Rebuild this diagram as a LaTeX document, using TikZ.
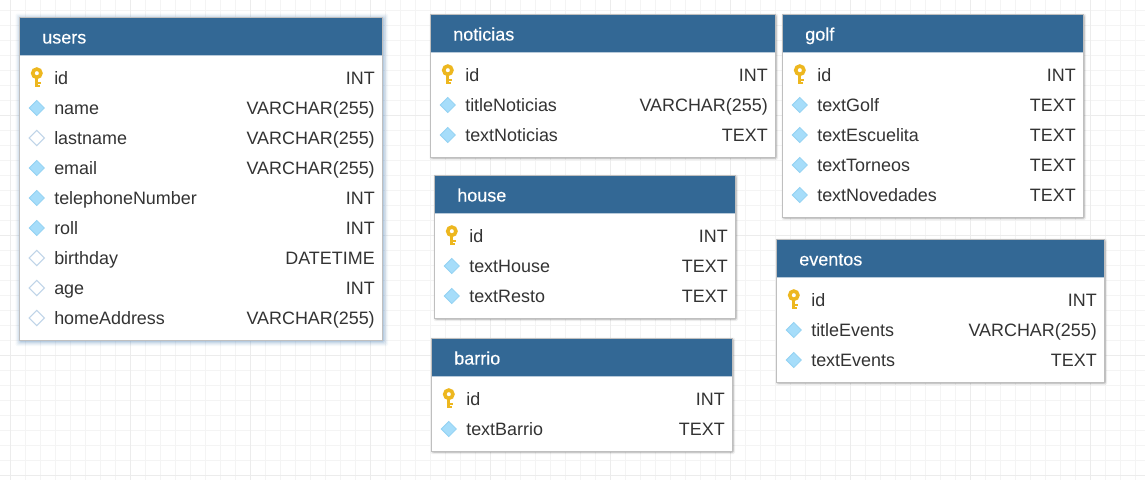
\documentclass[tikz,border=0pt]{standalone}
\usepackage{fontspec}
\setmainfont{Liberation Sans}
\newfontface\titleface{Liberation Sans}[FakeBold=0.25]
\definecolor{hdr}{HTML}{336895}
\definecolor{txt}{HTML}{333333}
\definecolor{minorg}{HTML}{F4F4F4}
\definecolor{majorg}{HTML}{ECECEC}
\definecolor{gold}{HTML}{EDB71F}
\definecolor{dfill}{HTML}{A6DDFA}
\definecolor{dline}{HTML}{93D2F3}
\definecolor{oline}{HTML}{BFD4E8}
\definecolor{glowc}{HTML}{5F8FBF}
\tikzset{
  x=0.75pt,y=-0.75pt,
  celltext/.style={font=\fontsize{13.45pt}{15pt}\selectfont,text=txt,inner sep=0pt,anchor=base west},
  typetext/.style={celltext,anchor=base east},
  titletext/.style={font=\titleface\fontsize{13.5pt}{16pt}\selectfont,text=white,inner sep=0pt,anchor=base west},
  bodybox/.style={fill=white,draw=black!25,line width=0.4pt},
  headbox/.style={fill=hdr,draw=none},
  diafull/.style={fill=dfill,draw=dline,line width=0.6pt},
  diaopen/.style={fill=white,draw=oline,line width=0.8pt},
}
\def\softshadow{2/0.06/1,1/0.12/1,0/0.30/1}
\def\glowshadow{5/0.05/1,4/0.07/1,3/0.09/1,2/0.13/1,1/0.20/1}
% \tbl{name}{x1}{y1}{x2}{y2}{title}{shadow colour}{shadow list}
\newcommand{\tbl}[8]{%
  \foreach \g/\o/\d in #8{%
    \fill[#7,opacity=\o,rounded corners=1pt] (#2-\g+\d-0.5,#3-\g+\d-0.5) rectangle (#4+\g+\d,#5+\g+\d);}%
  \path[bodybox] (#2-0.5,#3-0.5) rectangle (#4,#5);
  \node[headbox,minimum width=0pt,inner sep=0pt] (#1h) at (#2,#3) {};
  \fill[hdr] (#2-0.5,#3-0.5) rectangle (#4,#3+37);
  \draw[white!65!hdr,line width=0.4pt] (#2-0.5,#3+37) -- (#4,#3+37);
  \node[titletext] (#1t) at (#2+22,#3+25.5) {#6};
}
% \rowf{name}{left}{right}{y}{field}{type}{kind}
\newcommand{\rowf}[7]{%
  \begin{scope}[shift={(#2+16.8,#4)}]
  \ifnum#7=0
    \draw[gold,line width=2.7pt] (0,-4.8) circle[radius=4.1];
    \fill[gold] (-2,-1.5) rectangle (1.6,9.4);
    \fill[gold] (0,4.2) rectangle (4.4,6.2);
    \fill[gold] (0,7.4) rectangle (3.6,9.4);
  \fi
  \ifnum#7=1
    \path[diafull] (0,-7.6) -- (7.6,0) -- (0,7.6) -- (-7.6,0) -- cycle;
  \fi
  \ifnum#7=2
    \path[diaopen] (0,-7.6) -- (7.6,0) -- (0,7.6) -- (-7.6,0) -- cycle;
  \fi
  \end{scope}
  \node[celltext] (#1f) at (#2+34,#4+6.2) {#5};
  \node[typetext] (#1y) at (#3-7,#4+6.2) {#6};
}
\begin{document}
\begin{tikzpicture}
\useasboundingbox (0,0) rectangle (1145,480);
\fill[white] (0,0) rectangle (1145,480);
% grid
\foreach \i in {0,...,76}{\draw[minorg,line width=0.75pt] (10+15*\i-15,0) -- (10+15*\i-15,480);}
\foreach \i in {0,...,32}{\draw[minorg,line width=0.75pt] (0,-5+15*\i) -- (1145,-5+15*\i);}
\foreach \i in {0,...,9}{\draw[majorg,line width=0.75pt] (10+120*\i,0) -- (10+120*\i,480);}
\foreach \i in {0,...,4}{\draw[majorg,line width=0.75pt] (0,-5+120*\i) -- (1145,-5+120*\i);}

% users
\tbl{users}{20}{18}{382}{340}{users}{glowc}{\glowshadow}
\foreach \n/\f/\t/\k [count=\c from 0] in {
  a/id/INT/0,b/name/VARCHAR(255)/1,c/lastname/VARCHAR(255)/2,d/email/VARCHAR(255)/1,
  e/telephoneNumber/INT/1,f/roll/INT/1,g/birthday/DATETIME/2,h/age/INT/2,i/homeAddress/VARCHAR(255)/2}{
  \rowf{users\n}{20}{382}{78+30*\c}{\f}{\t}{\k}}

% noticias
\tbl{noticias}{431}{15}{775}{157}{noticias}{black}{\softshadow}
\foreach \n/\f/\t/\k [count=\c from 0] in {
  a/id/INT/0,b/titleNoticias/VARCHAR(255)/1,c/textNoticias/TEXT/1}{
  \rowf{noticias\n}{431}{775}{75+30*\c}{\f}{\t}{\k}}

% golf
\tbl{golf}{783}{15}{1083}{217}{golf}{black}{\softshadow}
\foreach \n/\f/\t/\k [count=\c from 0] in {
  a/id/INT/0,b/textGolf/TEXT/1,c/textEscuelita/TEXT/1,d/textTorneos/TEXT/1,e/textNovedades/TEXT/1}{
  \rowf{golf\n}{783}{1083}{75+30*\c}{\f}{\t}{\k}}

% house
\tbl{house}{435}{176}{735}{318}{house}{black}{\softshadow}
\foreach \n/\f/\t/\k [count=\c from 0] in {
  a/id/INT/0,b/textHouse/TEXT/1,c/textResto/TEXT/1}{
  \rowf{house\n}{435}{735}{236+30*\c}{\f}{\t}{\k}}

% barrio
\tbl{barrio}{432}{339}{732}{451}{barrio}{black}{\softshadow}
\foreach \n/\f/\t/\k [count=\c from 0] in {
  a/id/INT/0,b/textBarrio/TEXT/1}{
  \rowf{barrio\n}{432}{732}{399+30*\c}{\f}{\t}{\k}}

% eventos
\tbl{eventos}{777}{240}{1104}{382}{eventos}{black}{\softshadow}
\foreach \n/\f/\t/\k [count=\c from 0] in {
  a/id/INT/0,b/titleEvents/VARCHAR(255)/1,c/textEvents/TEXT/1}{
  \rowf{eventos\n}{777}{1104}{300+30*\c}{\f}{\t}{\k}}
\end{tikzpicture}
\end{document}
